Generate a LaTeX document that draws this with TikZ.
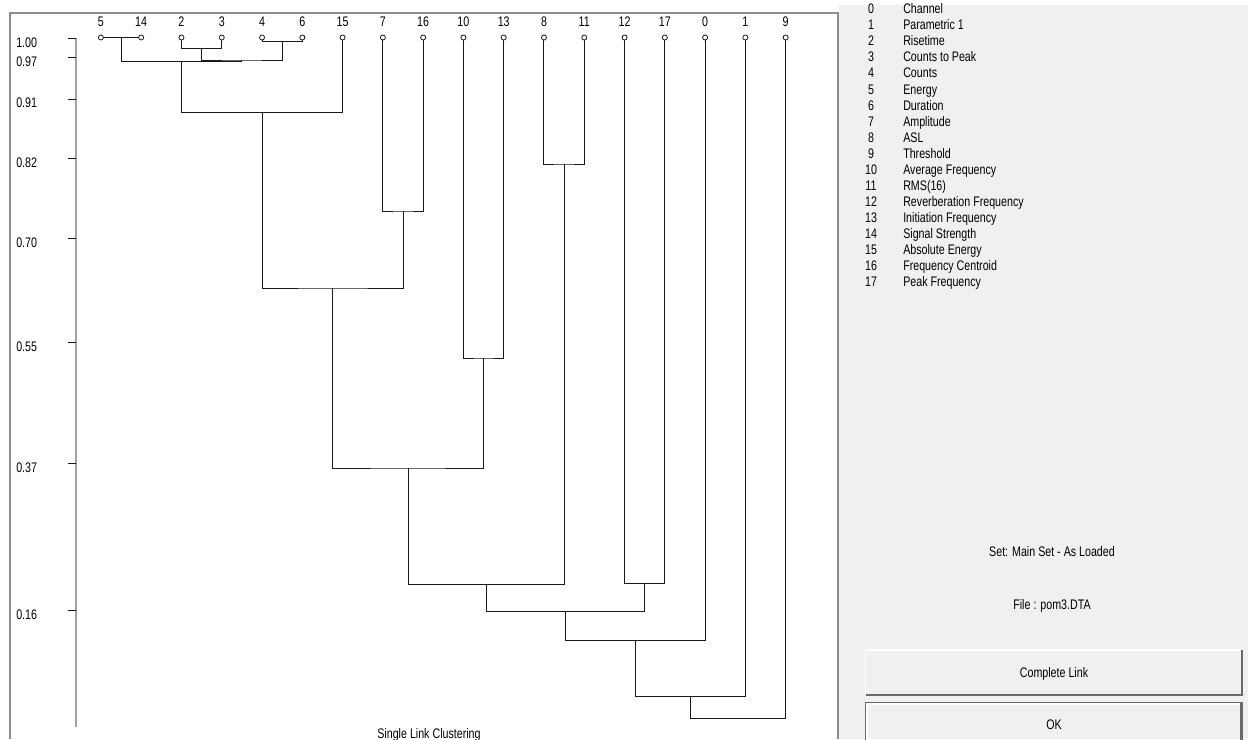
\documentclass[tikz,border=0pt]{standalone}
\usepackage{fontspec}
\setmainfont{Liberation Sans}[FakeStretch=0.77]
\definecolor{panel}{HTML}{F0F0F0}
\definecolor{framec}{HTML}{8C8C8C}
\definecolor{shadowc}{HTML}{696969}
\definecolor{dline}{HTML}{1A1A1A}
\definecolor{axisc}{HTML}{A0A0A0}
\begin{document}
\begin{tikzpicture}[x=0.75pt,y=-0.75pt,
  font=\fontsize{10.4}{12}\selectfont,
  txt/.style={inner sep=0pt, anchor=base, text=black},
  txtw/.style={inner sep=0pt, anchor=base west, text=black},
  link/.style={draw=dline, line width=0.75pt},
  leafdot/.style={circle, draw=dline, fill=white, line width=0.6pt, inner sep=0pt, minimum size=3.8pt},
  tick/.style={draw=dline, line width=0.75pt}]
\useasboundingbox (0,0) rectangle (1248,739);
\fill[white] (0,0) rectangle (1248,739);
% right panel
\fill[panel] (839,5) rectangle (1248,739);
% left frame
\draw[framec, line width=1.5pt] (10,739) -- (10,13) -- (837.5,13) -- (837.5,739);

% leaves
\foreach \lab [count=\i from 0] in {5,14,2,3,4,6,15,7,16,10,13,8,11,12,17,0,1,9} {
  \coordinate (l\lab) at ({100.9+40.28*\i},37.5);
  \node[txt] (t\lab) at ({100.9+40.28*\i},26) {\lab};
}
% merge points
\coordinate (m514)  at (121.04,37.5);
\coordinate (m23)   at (201.60,48.7);
\coordinate (m46)   at (282.16,41.7);
\coordinate (m2346) at (241.88,60.0);
\coordinate (mA)    at (181.46,61.3);
\coordinate (mB)    at (262.02,112.3);
\coordinate (m716)  at (403.00,211);
\coordinate (mC)    at (332.51,288);
\coordinate (m1013) at (483.56,358);
\coordinate (mD)    at (408.04,468);
\coordinate (m811)  at (564.12,164);
\coordinate (mE)    at (486.08,584);
\coordinate (m1217) at (644.68,583);
\coordinate (mF)    at (565.38,611);
\coordinate (mG)    at (635.24,640);
\coordinate (mH)    at (690.31,696);
\coordinate (mI)    at (737.99,718);

\draw[link] (l5) -- (l14);
\draw[link] (l2) |- (m23) -| (l3);
\draw[link] (l4) |- (m46) -| (l6);
\draw[link] (m23) |- (m2346) -| (m46);
\draw[link] (m514) |- (mA) -| (m2346);
\draw[link] (mA) |- (mB) -| (l15);
\draw[link] (l7) |- (m716) -| (l16);
\draw[link] (mB) |- (mC) -| (m716);
\draw[link] (l10) |- (m1013) -| (l13);
\draw[link] (mC) |- (mD) -| (m1013);
\draw[link] (l8) |- (m811) -| (l11);
\draw[link] (mD) |- (mE) -| (m811);
\draw[link] (l12) |- (m1217) -| (l17);
\draw[link] (mE) |- (mF) -| (m1217);
\draw[link] (mF) |- (mG) -| (l0);
\draw[link] (mG) |- (mH) -| (l1);
\draw[link] (mH) |- (mI) -| (l9);

\foreach \lab in {5,14,2,3,4,6,15,7,16,10,13,8,11,12,17,0,1,9} {
  \node[leafdot] (c\lab) at (l\lab) {};
}

% axis
\coordinate (axtop) at (76,37.5);
\coordinate (axbot) at (76,727);
\draw[axisc, line width=1.5pt] (axtop) -- (axbot);
\foreach \v/\yy [count=\k] in {1.00/38.7,0.97/57.7,0.91/99,0.82/158.5,0.70/238.5,0.55/342.5,0.37/463.5,0.16/610.5} {
  \coordinate (tk\k) at (68,\yy);
  \draw[tick] (tk\k) -- ++(8,0);
  \node[txtw] (av\k) at (16,\yy+8.5) {\v};
}

% legend
\foreach \n/\t [count=\k from 0] in {0/Channel,1/Parametric 1,2/Risetime,3/Counts to Peak,4/Counts,5/Energy,6/Duration,7/Amplitude,8/ASL,9/Threshold,10/Average Frequency,11/RMS(16),12/Reverberation Frequency,13/Initiation Frequency,14/Signal Strength,15/Absolute Energy,16/Frequency Centroid,17/Peak Frequency} {
  \node[txt] (ln\n) at (871,13.7+16.06*\k) {\n};
  \node[txtw] (lt\n) at (903,13.7+16.06*\k) {\t};
}

\node[txt] (setlbl) at (1052,556.5) {Set: Main Set - As Loaded};
\node[txt] (filelbl) at (1052,609.5) {File : pom3.DTA};

% Complete Link button
\fill[panel] (865.5,650) rectangle (1242.5,695);
\draw[white, line width=0.9pt] (865.5,695) -- (865.5,650) -- (1242,650);
\draw[shadowc, line width=1.5pt] (1242,650) -- (1242,695) -- (865.5,695);
\node[txt] (btncl) at (1054,677.5) {Complete Link};

% OK button
\draw[shadowc, line width=0.9pt] (865.5,745) -- (865.5,702.5) -- (1242.5,702.5) -- (1242.5,745);
\draw[white, line width=0.8pt] (867,745) -- (867,704) -- (1240,704);
\draw[shadowc, line width=1.5pt] (1241,703) -- (1241,745);
\node[txt] (btnok) at (1054,729.5) {OK};

\node[txt] (title) at (429,738) {Single Link Clustering};
\end{tikzpicture}
\end{document}
